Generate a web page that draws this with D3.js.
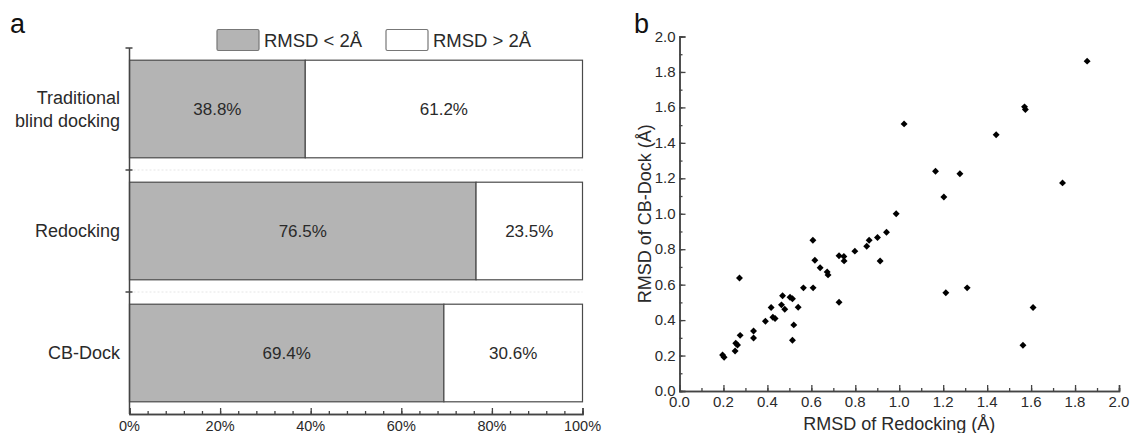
<!DOCTYPE html>
<html>
<head>
<meta charset="utf-8">
<script src="https://cdn.jsdelivr.net/npm/d3@7"></script>
<style>
  body { margin: 0; background: #fff; }
  svg { display: block; font-family: "Liberation Sans", Arial, sans-serif; }
  .lbl { fill: #2a2a2a; }
</style>
</head>
<body>
<div id="viz"></div>
<script>
// panel a: stacked percentage bars
const categories = ["Traditional\nblind docking", "Redocking", "CB-Dock"];
const below2 = [38.8, 76.5, 69.4];
const above2 = [61.2, 23.5, 30.6];
const legendNames = ["RMSD < 2Å", "RMSD > 2Å"];
const pctTicks = [0, 20, 40, 60, 80, 100];

// panel b: RMSD scatter
const redockRmsd = [0.196, 0.203, 0.253, 0.256, 0.264, 0.273, 0.276, 0.337, 0.337, 0.391,
  0.417, 0.425, 0.435, 0.464, 0.469, 0.479, 0.503, 0.514, 0.514, 0.520,
  0.540, 0.564, 0.608, 0.607, 0.616, 0.640, 0.672, 0.676, 0.726, 0.726,
  0.748, 0.749, 0.798, 0.852, 0.863, 0.901, 0.913, 0.942, 0.986, 1.212,
  1.309, 1.563, 1.609, 1.022, 1.165, 1.203, 1.276, 1.441, 1.570, 1.574,
  1.743, 1.855];
const cbdockRmsd = [0.203, 0.190, 0.226, 0.269, 0.260, 0.638, 0.314, 0.339, 0.299, 0.394,
  0.471, 0.416, 0.409, 0.486, 0.537, 0.461, 0.529, 0.520, 0.286, 0.373,
  0.473, 0.582, 0.582, 0.851, 0.738, 0.695, 0.672, 0.655, 0.501, 0.763,
  0.759, 0.734, 0.789, 0.817, 0.851, 0.866, 0.733, 0.896, 1.000, 0.554,
  0.582, 0.258, 0.471, 1.507, 1.240, 1.095, 1.226, 1.446, 1.603, 1.588,
  1.174, 1.861];
const rmsdTicks = [0, 0.2, 0.4, 0.6, 0.8, 1.0, 1.2, 1.4, 1.6, 1.8, 2.0];

const axisColor = "#444";

let svg = d3.select("#viz")
  .append("svg")
    .attr("width", 1131)
    .attr("height", 433);

// ---------------- panel a ----------------
let xPct = d3.scaleLinear().domain([0, 100]).range([129.5, 582.5]);
let yCat = d3.scaleBand()
  .domain(categories)
  .range([48, 414])
  .paddingInner(0.2)
  .paddingOuter(0.1);

let pa = svg.append("g");

pa.append("text")
  .attr("x", 10).attr("y", 33)
  .attr("font-size", 27)
  .attr("fill", "#111")
  .text("a");

// faint separators between categories
let seps = [yCat.step(), 2 * yCat.step()].map(s => 48 + s);
pa.selectAll(".sep").data(seps).enter().append("line")
  .attr("x1", xPct(0)).attr("x2", xPct(100))
  .attr("y1", d => d).attr("y2", d => d)
  .attr("stroke", "#e6e6e6")
  .attr("stroke-dasharray", "2,2");

// bars
categories.forEach((c, i) => {
  let y = yCat(c), h = yCat.bandwidth();
  pa.append("rect")
    .attr("x", xPct(0)).attr("y", y)
    .attr("width", xPct(below2[i]) - xPct(0)).attr("height", h)
    .attr("fill", "#b4b4b4").attr("stroke", "#4a4a4a").attr("stroke-width", 1.2);
  pa.append("rect")
    .attr("x", xPct(below2[i])).attr("y", y)
    .attr("width", xPct(100) - xPct(below2[i])).attr("height", h)
    .attr("fill", "#fff").attr("stroke", "#4a4a4a").attr("stroke-width", 1.2);
  pa.append("text").attr("class", "lbl")
    .attr("x", (xPct(0) + xPct(below2[i])) / 2).attr("y", y + h / 2 + 6)
    .attr("text-anchor", "middle").attr("font-size", 17)
    .text(below2[i].toFixed(1) + "%");
  pa.append("text").attr("class", "lbl")
    .attr("x", (xPct(below2[i]) + xPct(100)) / 2).attr("y", y + h / 2 + 6)
    .attr("text-anchor", "middle").attr("font-size", 17)
    .text(above2[i].toFixed(1) + "%");
  // category label (may be two lines)
  let lines = c.split("\n");
  let t = pa.append("text").attr("class", "lbl")
    .attr("text-anchor", "end").attr("font-size", 18);
  lines.forEach((ln, k) => {
    t.append("tspan")
      .attr("x", 120)
      .attr("y", y + h / 2 + 6 + (k - (lines.length - 1) / 2) * 23)
      .text(ln);
  });
});

// left axis with ticks at band boundaries
pa.append("line")
  .attr("x1", xPct(0)).attr("x2", xPct(0))
  .attr("y1", 48).attr("y2", 414)
  .attr("stroke", axisColor).attr("stroke-width", 1.5);
pa.selectAll(".ytk").data([48].concat(seps)).enter().append("line")
  .attr("x1", xPct(0) - 4).attr("x2", xPct(0) + 3)
  .attr("y1", d => d).attr("y2", d => d)
  .attr("stroke", axisColor).attr("stroke-width", 1.5);

// bottom axis, ticks pointing inward
let xAxisA = pa.append("g")
  .attr("transform", "translate(0,414)")
  .call(d3.axisTop(xPct).tickValues(d3.range(0, 101, 4)).tickSize(3).tickFormat(""));
let xAxisA2 = pa.append("g")
  .attr("transform", "translate(0,414)")
  .call(d3.axisTop(xPct).tickValues(pctTicks).tickSize(6).tickFormat(""));
[xAxisA, xAxisA2].forEach(g => {
  g.select(".domain").attr("stroke", axisColor).attr("stroke-width", 1.5);
  g.selectAll(".tick line").attr("stroke", axisColor).attr("stroke-width", 1.3);
});
pa.selectAll(".xl").data(pctTicks).enter().append("text").attr("class", "lbl")
  .attr("x", d => xPct(d)).attr("y", 431)
  .attr("text-anchor", "middle").attr("font-size", 14.5)
  .text(d => d + "%");

// legend
let legX = [217, 386];
legendNames.forEach((n, i) => {
  pa.append("rect")
    .attr("x", legX[i]).attr("y", 29.5)
    .attr("width", 42).attr("height", 21).attr("rx", 1.5)
    .attr("fill", i === 0 ? "#b4b4b4" : "#fff")
    .attr("stroke", "#777").attr("stroke-width", 1.2);
  pa.append("text").attr("class", "lbl")
    .attr("x", legX[i] + 47).attr("y", 46.5)
    .attr("font-size", 18.5)
    .text(n);
});

// ---------------- panel b ----------------
let xR = d3.scaleLinear().domain([0, 2]).range([679.5, 1119]);
let yR = d3.scaleLinear().domain([0, 2]).range([391, 36.5]);

let pb = svg.append("g");

pb.append("text")
  .attr("x", 634).attr("y", 33)
  .attr("font-size", 27).attr("fill", "#111")
  .text("b");

function styleAxis(g) {
  g.select(".domain").attr("stroke", axisColor).attr("stroke-width", 1.5);
  g.selectAll(".tick line").attr("stroke", axisColor).attr("stroke-width", 1.3);
}

let minorR = d3.range(0, 21).map(i => i / 10);
let gx1 = pb.append("g").attr("transform", "translate(0," + yR(0) + ")")
  .call(d3.axisTop(xR).tickValues(minorR).tickSize(3).tickFormat(""));
let gx2 = pb.append("g").attr("transform", "translate(0," + yR(0) + ")")
  .call(d3.axisTop(xR).tickValues(rmsdTicks).tickSize(6).tickFormat(""));
let gy1 = pb.append("g").attr("transform", "translate(" + xR(0) + ",0)")
  .call(d3.axisRight(yR).tickValues(minorR).tickSize(3).tickFormat(""));
let gy2 = pb.append("g").attr("transform", "translate(" + xR(0) + ",0)")
  .call(d3.axisRight(yR).tickValues(rmsdTicks).tickSize(6).tickFormat(""));
[gx1, gx2, gy1, gy2].forEach(styleAxis);

pb.selectAll(".xr").data(rmsdTicks).enter().append("text").attr("class", "lbl")
  .attr("x", d => xR(d)).attr("y", 406.5)
  .attr("text-anchor", "middle").attr("font-size", 15)
  .text(d => d.toFixed(1));
pb.selectAll(".yr").data(rmsdTicks).enter().append("text").attr("class", "lbl")
  .attr("x", xR(0) - 4).attr("y", d => yR(d) + 5)
  .attr("text-anchor", "end").attr("font-size", 15)
  .text(d => d.toFixed(1));

pb.append("text").attr("class", "lbl")
  .attr("x", (xR(0) + xR(2)) / 2).attr("y", 430)
  .attr("text-anchor", "middle").attr("font-size", 18)
  .text("RMSD of Redocking (Å)");
pb.append("text").attr("class", "lbl")
  .attr("transform", "translate(651," + (yR(1)) + ") rotate(-90)")
  .attr("text-anchor", "middle").attr("font-size", 18)
  .text("RMSD of CB-Dock (Å)");

let diamond = d3.symbol().type(d3.symbolSquare).size(24);
pb.selectAll(".pt").data(redockRmsd).enter().append("path")
  .attr("d", diamond)
  .attr("transform", (d, i) => "translate(" + xR(d) + "," + yR(cbdockRmsd[i]) + ") rotate(45)")
  .attr("fill", "#000");
</script>
</body>
</html>
